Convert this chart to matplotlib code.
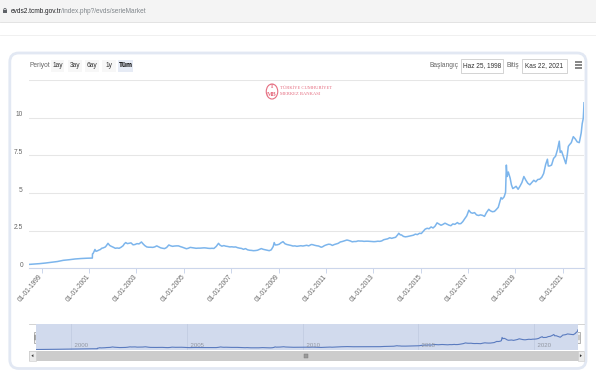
import matplotlib
matplotlib.use('Agg')
import matplotlib.pyplot as plt
import matplotlib.dates as mdates
from matplotlib.patches import FancyBboxPatch, Rectangle, Polygon, Ellipse
from matplotlib.transforms import ScaledTranslation, blended_transform_factory
import pandas as pd

plt.rcParams['font.family'] = ['Liberation Sans', 'DejaVu Sans']

# ---------------- data (USD/TRY-like series) ----------------
dates = [
    "1998-06-25", "1998-09-01", "1998-12-01", "1999-03-01", "1999-06-01", "1999-09-01", "1999-12-01",
    "2000-03-01", "2000-06-01", "2000-09-01", "2000-12-01", "2001-02-21", "2001-02-23", "2001-03-05",
    "2001-03-20", "2001-04-02", "2001-04-18", "2001-05-10", "2001-06-01", "2001-06-25", "2001-07-15",
    "2001-08-10", "2001-09-10", "2001-09-28", "2001-10-20", "2001-11-15", "2001-12-10",
    "2002-01-10", "2002-02-10", "2002-03-10", "2002-04-10", "2002-05-10", "2002-06-10", "2002-06-28",
    "2002-07-20", "2002-08-15", "2002-09-10", "2002-10-10", "2002-11-10", "2002-12-10",
    "2003-01-10", "2003-02-10", "2003-03-20", "2003-04-10", "2003-05-10", "2003-06-10", "2003-07-10",
    "2003-08-10", "2003-09-10", "2003-10-10", "2003-11-10", "2003-12-10",
    "2004-01-10", "2004-02-10", "2004-03-10", "2004-04-10", "2004-05-15", "2004-06-10", "2004-07-10",
    "2004-08-10", "2004-09-10", "2004-10-10", "2004-11-10", "2004-12-10",
    "2005-01-10", "2005-02-10", "2005-03-10", "2005-04-10", "2005-05-10", "2005-06-10", "2005-07-10",
    "2005-08-10", "2005-09-10", "2005-10-10", "2005-11-10", "2005-12-10",
    "2006-01-10", "2006-02-10", "2006-03-10", "2006-04-10", "2006-05-15", "2006-06-20", "2006-07-10",
    "2006-08-10", "2006-09-10", "2006-10-10", "2006-11-10", "2006-12-10",
    "2007-01-10", "2007-02-10", "2007-03-10", "2007-04-10", "2007-05-10", "2007-06-10", "2007-07-10",
    "2007-08-10", "2007-09-10", "2007-10-10", "2007-11-10", "2007-12-10",
    "2008-01-10", "2008-02-10", "2008-03-10", "2008-04-10", "2008-05-10", "2008-06-10", "2008-07-10",
    "2008-08-10", "2008-09-10", "2008-10-10", "2008-10-25", "2008-11-10", "2008-12-10",
    "2009-01-10", "2009-02-10", "2009-03-10", "2009-04-10", "2009-05-10", "2009-06-10", "2009-07-10",
    "2009-08-10", "2009-09-10", "2009-10-10", "2009-11-10", "2009-12-10",
    "2010-01-10", "2010-02-10", "2010-03-10", "2010-04-10", "2010-05-20", "2010-06-10", "2010-07-10",
    "2010-08-10", "2010-09-10", "2010-10-20", "2010-11-10", "2010-12-10",
    "2011-01-10", "2011-02-10", "2011-03-10", "2011-04-10", "2011-05-10", "2011-06-10", "2011-07-10",
    "2011-08-10", "2011-09-10", "2011-10-10", "2011-11-20", "2011-12-10",
    "2012-01-10", "2012-02-10", "2012-03-10", "2012-04-10", "2012-05-10", "2012-06-10", "2012-07-10",
    "2012-08-10", "2012-09-10", "2012-10-10", "2012-11-10", "2012-12-10",
    "2013-01-10", "2013-02-10", "2013-03-10", "2013-04-10", "2013-05-10", "2013-06-10", "2013-07-10",
    "2013-08-10", "2013-09-10", "2013-10-10", "2013-11-10", "2013-12-10",
    "2014-01-10", "2014-01-28", "2014-02-20", "2014-03-10", "2014-04-10", "2014-05-10", "2014-06-10",
    "2014-07-10", "2014-08-10", "2014-09-10", "2014-10-10", "2014-11-10", "2014-12-15",
    "2015-01-10", "2015-02-10", "2015-03-10", "2015-04-10", "2015-05-10", "2015-06-10", "2015-07-10",
    "2015-08-10", "2015-09-10", "2015-10-10", "2015-11-10", "2015-12-10",
    "2016-01-10", "2016-02-10", "2016-03-10", "2016-04-10", "2016-05-10", "2016-06-10", "2016-07-20",
    "2016-08-10", "2016-09-10", "2016-10-10", "2016-11-10", "2016-12-10",
    "2017-01-12", "2017-02-10", "2017-03-10", "2017-04-10", "2017-05-10", "2017-06-10", "2017-07-10",
    "2017-08-10", "2017-09-10", "2017-10-10", "2017-11-15", "2017-12-10",
    "2018-01-10", "2018-02-10", "2018-03-10", "2018-04-10", "2018-05-23", "2018-06-10", "2018-07-10",
    "2018-08-01", "2018-08-13", "2018-08-25", "2018-09-12", "2018-10-10", "2018-10-30", "2018-11-20",
    "2018-12-10",
    "2019-01-10", "2019-02-10", "2019-03-10", "2019-04-10", "2019-05-10", "2019-06-10", "2019-07-10",
    "2019-08-10", "2019-09-10", "2019-10-10", "2019-11-10", "2019-12-10",
    "2020-01-10", "2020-02-10", "2020-03-10", "2020-04-10", "2020-05-07", "2020-05-20", "2020-06-10",
    "2020-07-10", "2020-08-10", "2020-09-10", "2020-10-10", "2020-11-06", "2020-11-20", "2020-12-10",
    "2021-01-10", "2021-02-15", "2021-03-10", "2021-03-25", "2021-04-10", "2021-05-10", "2021-06-10",
    "2021-07-10", "2021-08-10", "2021-09-10", "2021-10-10", "2021-10-25", "2021-11-10", "2021-11-16",
    "2021-11-22",
]
values = [
    0.26, 0.28, 0.31, 0.35, 0.40, 0.45, 0.53,
    0.57, 0.62, 0.65, 0.67, 0.68, 0.96, 0.99,
    1.12, 1.25, 1.13, 1.16, 1.21, 1.25, 1.33,
    1.36, 1.42, 1.52, 1.66, 1.52, 1.46,
    1.40, 1.33, 1.35, 1.33, 1.40, 1.50, 1.62,
    1.71, 1.64, 1.66, 1.69, 1.56, 1.58,
    1.64, 1.62, 1.75, 1.64, 1.51, 1.42, 1.40,
    1.40, 1.39, 1.42, 1.49, 1.43,
    1.36, 1.33, 1.31, 1.38, 1.55, 1.50, 1.46,
    1.48, 1.49, 1.49, 1.44, 1.40,
    1.35, 1.30, 1.33, 1.39, 1.37, 1.35, 1.33,
    1.34, 1.34, 1.35, 1.36, 1.35,
    1.33, 1.32, 1.33, 1.32, 1.45, 1.66, 1.55,
    1.47, 1.51, 1.47, 1.45, 1.42,
    1.43, 1.41, 1.42, 1.37, 1.34, 1.32, 1.26,
    1.31, 1.23, 1.20, 1.19, 1.17,
    1.18, 1.20, 1.25, 1.31, 1.26, 1.23, 1.20,
    1.17, 1.23, 1.45, 1.71, 1.55, 1.56,
    1.60, 1.70, 1.77, 1.63, 1.58, 1.55, 1.52,
    1.48, 1.49, 1.46, 1.48, 1.50,
    1.48, 1.51, 1.53, 1.49, 1.58, 1.57, 1.53,
    1.50, 1.48, 1.40, 1.43, 1.51,
    1.56, 1.60, 1.59, 1.52, 1.58, 1.62, 1.66,
    1.75, 1.78, 1.82, 1.88, 1.86,
    1.82, 1.76, 1.78, 1.78, 1.82, 1.81, 1.81,
    1.79, 1.80, 1.80, 1.79, 1.78,
    1.77, 1.78, 1.80, 1.79, 1.82, 1.90, 1.93,
    1.96, 2.03, 1.99, 2.03, 2.06,
    2.22, 2.33, 2.22, 2.22, 2.12, 2.09, 2.11,
    2.14, 2.17, 2.20, 2.27, 2.24, 2.33,
    2.31, 2.46, 2.60, 2.66, 2.63, 2.75, 2.68,
    2.80, 3.02, 2.94, 2.86, 2.92,
    3.00, 2.93, 2.87, 2.83, 2.95, 2.92, 3.04,
    2.96, 2.97, 3.10, 3.30, 3.48,
    3.86, 3.70, 3.66, 3.70, 3.55, 3.51, 3.55,
    3.52, 3.45, 3.70, 3.92, 3.82,
    3.76, 3.78, 3.90, 4.05, 4.70, 4.60, 4.75,
    5.05, 6.86, 6.10, 6.40, 6.00, 5.55, 5.30,
    5.35,
    5.45, 5.25, 5.45, 5.70, 6.10, 5.85, 5.65,
    5.55, 5.70, 5.85, 5.75, 5.90,
    5.92, 6.05, 6.30, 6.90, 7.25, 6.80, 6.80,
    6.86, 7.30, 7.45, 7.90, 8.45, 7.70, 7.80,
    7.40, 6.95, 7.55, 8.10, 8.20, 8.35, 8.75,
    8.60, 8.40, 8.35, 9.00, 9.60, 9.95, 10.40,
    11.00,
]
y_ticks = [0, 2.5, 5, 7.5, 10, 12.5]
y_tick_labels = ["0", "2.5", "5", "7.5", "10", ""]
x_tick_years = list(range(1999, 2022, 2))
nav_years = [2000, 2005, 2010, 2015, 2020]
range_start = "1998-06-25"
range_end = "2021-11-22"

t = pd.to_datetime(dates)
x0d, x1d = pd.Timestamp(range_start), pd.Timestamp(range_end)

# ---------------- figure & helpers ----------------
W, H = 596, 377
fig = plt.figure(figsize=(W / 100, H / 100), dpi=100)


def axes_px(xa, ya, xb, yb):
    return fig.add_axes([xa / W, 1 - yb / H, (xb - xa) / W, (yb - ya) / H])


bg = fig.add_axes([0, 0, 1, 1])
bg.set_xlim(0, W)
bg.set_ylim(H, 0)
bg.axis('off')

# browser address bar
bg.add_patch(Rectangle((0, 0), W, 22, fc='#f4f4f4', ec='none'))
bg.plot([0, W], [22, 22], color='#dedede', lw=0.6)
bg.plot([0, W], [35, 35], color='#eeeeee', lw=0.6)
bg.add_patch(Rectangle((3.2, 10.3), 3.6, 3.0, fc='#5f6368', ec='none'))
bg.add_patch(Ellipse((5.0, 10.0), 2.6, 3.2, fc='none', ec='#5f6368', lw=0.6))
t1 = bg.text(10.5, 11.5, "evds2.tcmb.gov.tr", fontsize=4.7, color='#202124', va='center', ha='left')
bg.annotate("/index.php?/evds/serieMarket", xy=(1, 0.5), xycoords=t1, fontsize=4.7,
            color='#80868b', va='center', ha='left')

# card
bg.add_patch(FancyBboxPatch((9.8, 53), 576.2, 315.5, boxstyle="round,pad=0,rounding_size=9",
                            fc='white', ec='#e2e8f3', lw=2.0))

# header: period buttons
bg.text(29.5, 65.5, "Periyot", fontsize=4.8, color='#666666', va='center', ha='left')
btns = [("1ay", 50.7, 64.3), ("3ay", 67.7, 81.7), ("6ay", 85, 99), ("1y", 101.7, 115.7), ("Tüm", 118.3, 133.3)]
for lab, a, b in btns:
    sel = lab == "Tüm"
    bg.add_patch(Rectangle((a, 59.5), b - a, 12, fc='#e6ebf5' if sel else '#f7f7f7', ec='none'))
    bg.text((a + b) / 2, 65.5, lab, fontsize=4.8, color='#000000' if sel else '#333333',
            fontweight='bold' if sel else 'normal', va='center', ha='center')

# header: date inputs
bg.text(444, 65.5, "Başlangıç", fontsize=4.8, color='#666666', va='center', ha='center')
bg.add_patch(Rectangle((461, 58.5), 42.3, 14, fc='white', ec='#cccccc', lw=0.6))
bg.text(482.2, 65.5, "Haz 25, 1998", fontsize=4.7, color='#333333', va='center', ha='center')
bg.text(512.5, 65.5, "Bitiş", fontsize=4.8, color='#666666', va='center', ha='center')
bg.add_patch(Rectangle((521.7, 58.5), 45, 14, fc='white', ec='#cccccc', lw=0.6))
bg.text(544.2, 65.5, "Kas 22, 2021", fontsize=4.7, color='#333333', va='center', ha='center')
for yy in (62, 65.2, 68.4):
    bg.plot([574.5, 582], [yy, yy], color='#666666', lw=1.1, solid_capstyle='butt')

# ---------------- main chart ----------------
ax = axes_px(29.3, 80.2, 584, 268.3)
ax.plot(t, values, color='#7cb5ec', lw=1.1, zorder=3)
ax.set_xlim(x0d, x1d)
ax.set_ylim(0, 12.5)
ax.set_yticks(y_ticks)
ax.set_yticklabels(y_tick_labels)
ax.grid(axis='y', color='#e6e6e6', lw=0.75)
ax.set_axisbelow(True)
for s in ('top', 'right', 'left'):
    ax.spines[s].set_visible(False)
ax.spines['bottom'].set_color('#ccd6eb')
ax.spines['bottom'].set_linewidth(0.8)
ax.tick_params(axis='y', length=0, pad=4.6, labelsize=4.8, labelcolor='#666666')
for lab in ax.get_yticklabels():
    lab.set_transform(lab.get_transform() + ScaledTranslation(0, 0.04, fig.dpi_scale_trans))
ax.set_xticks([pd.Timestamp(f"{y}-01-01") for y in x_tick_years])
ax.xaxis.set_major_formatter(mdates.DateFormatter("%d-%m-%Y"))
ax.tick_params(axis='x', length=3.8, width=0.7, color='#ccd6eb', pad=1.5,
               labelsize=4.8, labelcolor='#666666')
for lab in ax.get_xticklabels():
    lab.set_rotation(50)
    lab.set_ha('right')
    lab.set_va('center')
    lab.set_rotation_mode('anchor')
ax.patch.set_alpha(0)

# logo
pink = '#e56d80'
bg.add_patch(Ellipse((272.0, 91.5), 11.5, 15, fc='none', ec=pink, lw=0.8, zorder=5))
bg.text(272.0, 86.0, "T", fontsize=4.6, color=pink, ha='center', va='center', fontweight='bold',
        family='Liberation Serif', zorder=5)
bg.text(272.0, 94.0, "MB", fontsize=4.3, color=pink, ha='center', va='center', fontweight='bold',
        family='Liberation Serif', zorder=5)
bg.text(280.5, 87.6, "TÜRKİYE CUMHURİYET", fontsize=3.3, color=pink, ha='left', va='center',
        family='Liberation Serif', zorder=5)
bg.text(280.5, 94.2, "MERKEZ BANKASI", fontsize=3.3, color=pink, ha='left', va='center',
        family='Liberation Serif', zorder=5)

# ---------------- navigator ----------------
bg.plot([29.3, 584], [324.3, 324.3], color='#cccccc', lw=0.6)
nav = axes_px(35.7, 324.3, 578, 350)
nav.set_facecolor('#d1daed')
nav.plot(t, values, color='#5a7bbf', lw=0.8)
nav.set_xlim(x0d, x1d)
nav.set_ylim(0, 14)
for s in nav.spines.values():
    s.set_visible(False)
nav.set_xticks([])
nav.set_yticks([])
tr = blended_transform_factory(nav.transData, nav.transAxes)
for y in nav_years:
    d = pd.Timestamp(f"{y}-01-01")
    nav.axvline(d, color='#c2cce2', lw=0.6, zorder=0.5)
    nav.text(mdates.date2num(d), 0.07, "  " + str(y), transform=tr, fontsize=4.4,
             color='#9297a2', ha='left', va='bottom')

# handles
for hx in (35.7, 578):
    bg.add_patch(Rectangle((hx - 2.2, 332), 4.4, 10.5, fc='#f2f2f2', ec='#999999', lw=0.5, zorder=6))
    bg.plot([hx - 0.6, hx - 0.6], [334.5, 340], color='#333333', lw=0.3, zorder=7)
    bg.plot([hx + 0.6, hx + 0.6], [334.5, 340], color='#333333', lw=0.3, zorder=7)

# scrollbar
bg.add_patch(Rectangle((29.3, 350.7), 554.7, 10, fc='#cccccc', ec='none'))
bg.add_patch(Rectangle((29.3, 350.7), 6.4, 10, fc='#ebebeb', ec='#cccccc', lw=0.4))
bg.add_patch(Rectangle((577.6, 350.7), 6.4, 10, fc='#ebebeb', ec='#cccccc', lw=0.4))
bg.add_patch(Polygon([[31.4, 355.7], [33.4, 354.2], [33.4, 357.2]], closed=True, fc='#333333', ec='none'))
bg.add_patch(Polygon([[581.9, 355.7], [579.9, 354.2], [579.9, 357.2]], closed=True, fc='#333333', ec='none'))
bg.add_patch(Rectangle((304, 353.7), 3.6, 4, fc='#999999', ec='#777777', lw=0.3))

fig.savefig("out.png", dpi=100)
